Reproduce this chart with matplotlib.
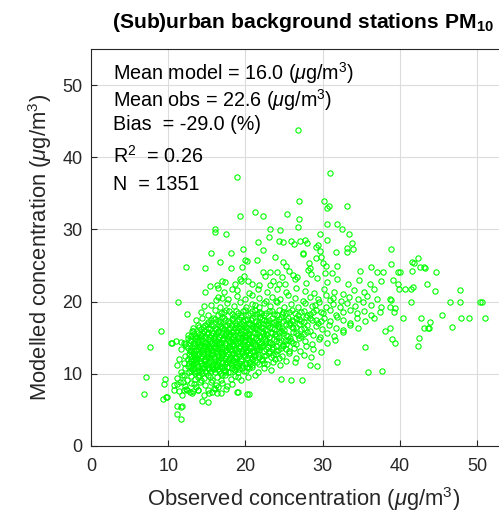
import numpy as np
import matplotlib.pyplot as plt

# observed vs modelled PM10 (ug/m3)
# outer / sparse points
upper_pts = [
    (26.8, 43.8), (18.9, 37.2), (31.0, 37.8), (26.9, 34.0), (30.2, 33.9),
    (30.5, 33.0), (30.8, 33.3), (33.2, 33.3), (19.3, 31.8), (21.3, 32.4),
    (22.3, 31.9), (25.4, 32.2), (26.9, 31.5), (26.8, 30.3), (30.6, 30.7),
    (31.9, 30.8), (32.5, 30.1), (33.4, 29.4), (16.1, 30.1), (16.1, 29.6),
    (17.5, 29.3), (23.2, 30.0), (24.5, 29.9), (23.1, 29.0), (29.7, 29.3),
    (30.5, 28.6), (21.6, 28.3), (24.3, 28.4), (24.9, 28.2), (25.9, 28.4),
    (26.3, 28.0), (27.1, 28.4), (27.7, 28.6), (28.0, 28.1), (29.4, 27.8),
    (29.2, 27.6), (33.8, 28.1), (33.9, 27.3), (33.2, 27.4), (33.1, 26.9),
    (19.7, 27.3), (22.3, 27.1), (18.1, 26.7), (15.6, 26.8), (27.4, 26.6),
    (27.5, 26.7), (29.7, 27.0), (29.8, 26.2), (31.7, 26.9), (38.8, 27.3),
    (23.8, 26.2), (16.7, 25.5), (20.0, 25.7), (20.2, 25.6), (21.5, 25.7),
    (24.9, 25.5), (25.3, 25.0), (28.2, 25.4), (28.3, 24.7), (30.0, 25.3),
    (30.4, 24.9), (31.8, 25.0), (29.1, 26.1), (12.3, 24.8), (14.7, 24.6),
    (18.1, 24.7), (19.5, 24.8), (25.6, 24.2), (22.3, 24.1), (23.2, 24.1),
    (24.1, 24.1), (26.1, 23.7), (26.7, 23.4), (28.1, 24.4), (30.3, 24.0),
]
right_pts = [
    (34.8, 24.3), (36.3, 24.8), (37.1, 24.1), (37.8, 24.1), (38.9, 25.2),
    (39.7, 24.1), (40.0, 24.1), (41.6, 25.5), (41.8, 25.4), (42.3, 26.1),
    (41.6, 24.3), (42.6, 24.8), (43.1, 24.8), (43.3, 24.7), (44.7, 24.1),
    (39.1, 23.0), (39.8, 22.5), (39.9, 21.8), (40.7, 21.8), (41.5, 21.8),
    (41.7, 22.0), (43.5, 22.4), (44.5, 21.5), (47.8, 21.6), (46.5, 20.0),
    (47.8, 20.0), (50.4, 20.0), (50.6, 20.0), (41.5, 20.0), (45.5, 18.1),
    (42.8, 17.7), (43.9, 17.2), (43.1, 16.3), (43.6, 16.3), (43.8, 16.4),
    (46.7, 16.5), (47.9, 17.7), (49.0, 17.7), (51.0, 17.7), (42.5, 14.9),
    (42.3, 13.8), (40.4, 17.7), (38.7, 20.3), (38.9, 20.2), (38.7, 19.2),
    (39.4, 19.1), (39.2, 18.6), (38.7, 16.4), (39.0, 14.8), (39.4, 14.3),
    (38.1, 15.9), (35.5, 13.7), (35.9, 10.3), (37.7, 10.4), (31.9, 11.6),
    (28.4, 11.2), (29.3, 11.1), (24.6, 9.3), (25.9, 9.2), (27.3, 9.2),
]
left_pts = [
    (20.2, 7.2), (18.9, 7.5), (11.7, 3.8), (11.6, 5.4), (11.1, 4.5),
    (11.2, 5.6), (11.8, 5.5), (14.4, 6.3), (15.1, 6.1), (6.8, 7.2),
    (7.1, 9.5), (7.7, 13.7), (9.1, 15.9), (9.3, 6.5), (9.7, 6.8),
    (9.6, 9.3), (9.4, 8.6), (9.8, 6.8), (10.7, 7.7), (11.1, 8.6),
    (11.8, 7.0), (12.0, 7.7), (12.4, 7.8), (13.2, 7.6), (13.8, 7.8),
    (15.3, 7.4), (15.7, 7.5), (16.4, 8.2), (16.3, 7.3), (19.0, 7.5),
    (19.1, 9.5), (20.4, 7.2), (11.3, 20.0), (12.4, 18.3), (10.4, 14.2),
    (11.0, 14.6), (12.1, 14.3), (12.6, 14.9), (10.5, 14.2), (11.7, 14.4),
    (11.4, 12.1), (11.1, 11.2), (13.0, 15.3), (13.2, 16.0), (14.6, 19.4),
    (14.7, 21.4), (15.4, 22.1), (16.4, 21.9), (16.3, 22.3), (17.0, 22.9),
    (17.4, 22.7), (16.2, 20.2), (16.9, 20.5), (18.3, 21.8), (19.3, 23.2),
    (19.4, 22.8), (20.9, 22.5), (23.2, 22.3), (24.3, 22.4),
]
# dense core, band by band in modelled value
core_pts = [
    (11.4, 7.6), (12.3, 7.9), (13.1, 7.3), (13.9, 7.8), (14.6, 7.1), (15.2, 7.7),
    (16.1, 7.9), (16.8, 7.4), (12.8, 7.5), (17.5, 7.9),
    (10.8, 8.4), (11.5, 8.8), (12.2, 8.3), (12.9, 8.7), (13.6, 8.2), (14.1, 8.9),
    (14.8, 8.5), (15.5, 8.8), (16.2, 8.4), (16.9, 8.7), (17.6, 8.3), (11.9, 8.9),
    (13.3, 8.6), (15.9, 8.1), (18.2, 8.6),
    (11.2, 9.4), (11.8, 9.8), (12.4, 9.2), (12.9, 9.7), (13.5, 9.3), (14.0, 9.9),
    (14.6, 9.4), (15.1, 9.8), (15.7, 9.2), (16.3, 9.6), (16.8, 9.1), (17.4, 9.8),
    (18.1, 9.3), (18.7, 9.7), (19.4, 9.2), (20.3, 9.6), (21.2, 9.9), (12.1, 9.9),
    (13.8, 9.6), (15.4, 9.5), (17.0, 9.9), (14.3, 9.1),
    (11.6, 10.3), (12.2, 10.8), (12.7, 10.2), (13.1, 10.6), (13.5, 10.1), (13.8, 10.9),
    (14.2, 10.4), (14.6, 10.8), (14.9, 10.2), (15.3, 10.6), (15.7, 10.9), (16.0, 10.3),
    (16.4, 10.7), (16.8, 10.1), (17.2, 10.5), (17.6, 10.9), (18.0, 10.3), (18.5, 10.7),
    (19.0, 10.2), (19.5, 10.8), (20.1, 10.4), (20.8, 10.9), (21.6, 10.3), (22.4, 10.8),
    (23.3, 10.5), (13.3, 10.4), (14.4, 10.1), (15.9, 10.6), (17.4, 10.2), (18.8, 10.9),
    (12.0, 11.5), (12.5, 11.1), (12.9, 11.8), (13.2, 11.3), (13.6, 11.7), (13.9, 11.1),
    (14.3, 11.5), (14.6, 11.9), (15.0, 11.2), (15.3, 11.6), (15.7, 11.0), (16.0, 11.8),
    (16.3, 11.4), (16.7, 11.1), (17.0, 11.7), (17.4, 11.3), (17.8, 11.9), (18.2, 11.2),
    (18.6, 11.6), (19.0, 11.1), (19.4, 11.8), (19.9, 11.3), (20.4, 11.7), (20.9, 11.2),
    (21.5, 11.6), (22.1, 11.9), (22.8, 11.3), (23.6, 11.7), (24.5, 11.2), (13.4, 11.9),
    (14.8, 11.4), (16.5, 11.6), (18.4, 11.5), (20.2, 11.0), (25.3, 11.8), (26.4, 11.6),
    (12.2, 12.4), (12.7, 12.8), (13.0, 12.1), (13.3, 12.6), (13.7, 12.2), (14.0, 12.9),
    (14.3, 12.4), (14.7, 12.0), (15.0, 12.7), (15.4, 12.3), (15.7, 12.8), (16.1, 12.1),
    (16.4, 12.6), (16.8, 12.2), (17.1, 12.9), (17.5, 12.4), (17.9, 12.0), (18.2, 12.7),
    (18.6, 12.3), (19.0, 12.8), (19.4, 12.1), (19.8, 12.6), (20.2, 12.2), (20.6, 12.9),
    (21.1, 12.4), (21.6, 12.8), (22.1, 12.1), (22.7, 12.6), (23.3, 12.3), (24.0, 12.8),
    (24.8, 12.4), (25.7, 12.9), (26.6, 12.2), (13.5, 12.5), (15.2, 12.5), (16.9, 12.5),
    (18.8, 12.5), (20.9, 12.0), (23.8, 12.0), (27.6, 12.6), (28.5, 12.3), (12.6, 12.1),
    (11.7, 13.4), (12.3, 13.8), (12.8, 13.2), (13.1, 13.7), (13.4, 13.1), (13.8, 13.5),
    (14.1, 13.9), (14.4, 13.3), (14.8, 13.7), (15.1, 13.1), (15.4, 13.6), (15.8, 13.2),
    (16.1, 13.9), (16.5, 13.4), (16.8, 13.0), (17.2, 13.7), (17.5, 13.3), (17.9, 13.8),
    (18.3, 13.2), (18.6, 13.6), (19.0, 13.1), (19.3, 13.9), (19.7, 13.4), (20.1, 13.0),
    (20.5, 13.7), (20.9, 13.2), (21.3, 13.8), (21.7, 13.3), (22.2, 13.9), (22.6, 13.4),
    (23.1, 13.1), (23.6, 13.7), (24.2, 13.3), (24.9, 13.8), (25.6, 13.2), (26.3, 13.6),
    (27.1, 13.1), (27.9, 13.8), (28.8, 13.4), (29.8, 13.0), (14.6, 13.5), (16.3, 13.6),
    (18.0, 13.5), (19.9, 13.6), (21.5, 13.6), (23.9, 13.9),
    (12.2, 14.1), (12.8, 14.7), (13.2, 14.3), (13.5, 14.9), (13.9, 14.4), (14.2, 14.0),
    (14.5, 14.6), (14.9, 14.2), (15.2, 14.8), (15.6, 14.3), (15.9, 14.9), (16.3, 14.5),
    (16.6, 14.1), (17.0, 14.7), (17.3, 14.2), (17.7, 14.8), (18.0, 14.4), (18.4, 14.0),
    (18.7, 14.6), (19.1, 14.2), (19.5, 14.9), (19.8, 14.5), (20.2, 14.1), (20.6, 14.7),
    (21.0, 14.3), (21.4, 14.9), (21.8, 14.4), (22.3, 14.0), (22.7, 14.6), (23.2, 14.2),
    (23.7, 14.8), (24.3, 14.4), (24.9, 14.0), (25.5, 14.7), (26.2, 14.3), (26.9, 14.9),
    (27.7, 14.5), (28.6, 14.1), (29.5, 14.8), (30.5, 14.3), (31.6, 14.7), (14.0, 14.7),
    (16.0, 14.2), (18.2, 14.8), (20.4, 14.4), (22.5, 14.3), (25.1, 14.5),
    (12.6, 15.4), (13.1, 15.9), (13.5, 15.2), (13.9, 15.7), (14.3, 15.3), (14.6, 15.9),
    (15.0, 15.5), (15.4, 15.1), (15.7, 15.7), (16.1, 15.3), (16.4, 15.8), (16.8, 15.4),
    (17.1, 15.0), (17.5, 15.6), (17.9, 15.2), (18.2, 15.8), (18.6, 15.4), (19.0, 15.0),
    (19.3, 15.7), (19.7, 15.3), (20.1, 15.9), (20.5, 15.5), (20.9, 15.1), (21.3, 15.7),
    (21.7, 15.3), (22.1, 15.9), (22.6, 15.5), (23.0, 15.1), (23.5, 15.7), (24.0, 15.3),
    (24.6, 15.9), (25.2, 15.4), (25.8, 15.0), (26.5, 15.6), (27.2, 15.2), (28.0, 15.8),
    (28.8, 15.4), (29.7, 15.1), (30.6, 15.7), (31.5, 15.3), (32.6, 15.8), (15.2, 15.6),
    (17.7, 15.4), (20.0, 15.4), (22.4, 15.2), (24.4, 15.6), (27.6, 15.5),
    (13.2, 16.3), (13.8, 16.8), (14.3, 16.2), (14.8, 16.7), (15.2, 16.3), (15.6, 16.9),
    (16.0, 16.4), (16.4, 16.0), (16.8, 16.6), (17.2, 16.2), (17.6, 16.8), (18.0, 16.4),
    (18.4, 16.0), (18.8, 16.7), (19.2, 16.3), (19.6, 16.9), (20.0, 16.5), (20.4, 16.1),
    (20.8, 16.7), (21.2, 16.3), (21.6, 16.9), (22.0, 16.5), (22.5, 16.1), (22.9, 16.7),
    (23.4, 16.3), (23.9, 16.9), (24.4, 16.5), (25.0, 16.1), (25.6, 16.7), (26.2, 16.3),
    (26.9, 16.9), (27.6, 16.4), (28.3, 16.0), (29.1, 16.6), (29.9, 16.2), (30.8, 16.8),
    (31.7, 16.4), (32.6, 16.1), (33.6, 16.7), (34.6, 16.3), (19.4, 16.5), (21.4, 16.6),
    (24.2, 16.6), (26.6, 16.5),
    (13.6, 17.4), (14.4, 17.8), (15.1, 17.2), (15.8, 17.7), (16.4, 17.3), (16.9, 17.9),
    (17.4, 17.5), (17.9, 17.1), (18.4, 17.7), (18.9, 17.3), (19.4, 17.9), (19.9, 17.5),
    (20.4, 17.1), (20.9, 17.7), (21.4, 17.3), (21.9, 17.9), (22.4, 17.5), (22.9, 17.1),
    (23.4, 17.7), (24.0, 17.3), (24.6, 17.9), (25.2, 17.5), (25.8, 17.1), (26.5, 17.7),
    (27.2, 17.3), (27.9, 17.9), (28.6, 17.5), (29.4, 17.1), (30.2, 17.7), (31.0, 17.3),
    (31.8, 17.9), (32.7, 17.5), (33.6, 17.1), (34.5, 17.7), (35.5, 17.3), (36.6, 17.8),
    (20.2, 17.6), (23.1, 17.5), (26.0, 17.5),
    (14.3, 18.5), (15.2, 18.2), (16.0, 18.8), (16.8, 18.4), (17.5, 18.9), (18.2, 18.3),
    (18.8, 18.7), (19.4, 18.2), (20.0, 18.8), (20.6, 18.4), (21.2, 18.9), (21.8, 18.5),
    (22.4, 18.1), (23.0, 18.7), (23.7, 18.3), (24.4, 18.9), (25.2, 18.4), (26.0, 18.8),
    (26.8, 18.2), (27.6, 18.7), (28.4, 18.3), (29.2, 18.9), (30.0, 18.4), (30.9, 18.8),
    (31.7, 18.2), (32.6, 18.6), (33.5, 18.9), (34.4, 18.4), (35.3, 18.7), (36.3, 18.2),
    (37.4, 18.6), (22.0, 18.4), (24.9, 18.6), (29.8, 18.6),
    (15.6, 19.5), (16.7, 19.2), (17.6, 19.8), (18.5, 19.4), (19.3, 19.9), (20.1, 19.3),
    (20.9, 19.7), (21.7, 19.2), (22.4, 19.8), (23.2, 19.4), (24.1, 19.9), (25.0, 19.3),
    (25.9, 19.7), (26.8, 19.2), (27.7, 19.8), (28.6, 19.4), (29.5, 19.9), (30.4, 19.3),
    (31.3, 19.7), (32.2, 19.2), (33.2, 19.8), (34.2, 19.4), (35.2, 19.9), (36.3, 19.5),
    (37.5, 19.2), (21.3, 19.5), (29.0, 19.6),
    (16.5, 20.6), (17.8, 20.3), (18.9, 20.8), (19.9, 20.4), (20.8, 20.9), (21.7, 20.5),
    (22.6, 20.1), (23.5, 20.7), (24.5, 20.3), (25.5, 20.9), (26.4, 20.5), (27.4, 20.1),
    (28.4, 20.7), (29.4, 20.3), (30.4, 20.9), (31.4, 20.5), (32.4, 20.1), (33.4, 20.7),
    (34.6, 20.3), (35.8, 20.8), (37.0, 20.4), (24.0, 20.1), (30.9, 20.2),
    (17.2, 21.4), (18.9, 21.6), (20.5, 21.2), (21.6, 21.8), (22.8, 21.4), (24.1, 21.7),
    (25.2, 21.3), (26.5, 21.9), (27.7, 21.5), (28.9, 21.2), (30.2, 21.8), (31.5, 21.4),
    (32.7, 21.1), (34.0, 21.6), (35.4, 21.3), (36.7, 21.7),
    (18.6, 22.4), (20.3, 22.9), (21.8, 22.3), (23.6, 22.8), (25.1, 22.4), (26.4, 23.1),
    (27.8, 22.6), (29.3, 23.3), (30.6, 22.7), (31.9, 23.2), (33.3, 22.5), (34.7, 23.0),
    (36.1, 22.4), (22.5, 23.6), (24.7, 23.4), (28.5, 23.8), (31.2, 24.0), (19.8, 23.5),
    (37.5, 22.8),
]
# the solid-looking middle of the cloud (second, interleaved pass)
dense_pts = [
    (13.0, 10.45), (13.4, 10.75), (13.7, 10.3), (14.0, 10.55), (14.4, 10.85), (14.8, 10.45),
    (15.1, 10.75), (15.5, 10.35), (15.8, 10.65), (16.2, 10.9), (16.6, 10.45), (17.0, 10.8),
    (17.4, 10.55), (17.8, 10.25), (18.2, 10.85), (18.7, 10.5), (19.2, 10.6), (19.8, 10.45),
    (20.4, 10.75),
    (12.7, 11.45), (13.0, 11.05), (13.4, 11.55), (13.7, 11.35), (14.1, 11.75), (14.4, 11.25),
    (14.8, 11.8), (15.1, 11.45), (15.5, 11.8), (15.8, 11.4), (16.2, 11.15), (16.5, 11.85),
    (16.9, 11.45), (17.2, 11.05), (17.6, 11.6), (18.0, 11.45), (18.4, 11.85), (18.8, 11.35),
    (19.2, 11.55), (19.6, 11.2), (20.1, 11.55), (20.6, 11.4), (21.2, 11.85), (21.8, 11.35),
    (22.4, 11.55),
    (12.9, 12.45), (13.2, 12.85), (13.5, 12.15), (13.9, 12.55), (14.2, 12.15), (14.5, 12.75),
    (14.9, 12.35), (15.2, 12.85), (15.6, 12.55), (15.9, 12.35), (16.3, 12.85), (16.6, 12.4),
    (17.0, 12.6), (17.3, 12.15), (17.7, 12.7), (18.0, 12.35), (18.4, 12.9), (18.8, 12.15),
    (19.2, 12.45), (19.6, 12.85), (20.0, 12.4), (20.4, 12.65), (20.8, 12.3), (21.3, 12.65),
    (21.8, 12.3), (22.4, 12.45), (23.0, 12.85), (23.6, 12.55), (24.3, 12.25),
    (12.6, 13.55), (13.0, 13.35), (13.3, 13.85), (13.6, 13.25), (14.0, 13.65), (14.3, 13.05),
    (14.6, 13.85), (15.0, 13.45), (15.3, 13.85), (15.6, 13.35), (16.0, 13.55), (16.3, 13.15),
    (16.7, 13.75), (17.0, 13.45), (17.4, 13.1), (17.7, 13.6), (18.1, 13.25), (18.5, 13.85),
    (18.8, 13.4), (19.2, 13.55), (19.5, 13.2), (19.9, 13.85), (20.3, 13.35), (20.7, 13.55),
    (21.1, 13.1), (21.5, 13.35), (21.9, 13.65), (22.4, 13.2), (22.9, 13.75), (23.4, 13.45),
    (24.0, 13.15), (24.6, 13.55), (25.3, 13.45),
    (13.0, 14.55), (13.4, 14.15), (13.7, 14.65), (14.0, 14.25), (14.4, 14.85), (14.7, 14.45),
    (15.0, 14.05), (15.4, 14.55), (15.7, 14.15), (16.1, 14.75), (16.4, 14.25), (16.8, 14.45),
    (17.1, 14.85), (17.5, 14.05), (17.9, 14.6), (18.2, 14.15), (18.6, 14.85), (18.9, 14.35),
    (19.3, 14.55), (19.7, 14.1), (20.0, 14.75), (20.4, 14.85), (20.8, 14.5), (21.2, 14.1),
    (21.6, 14.65), (22.0, 14.2), (22.5, 14.85), (23.0, 14.45), (23.5, 14.1), (24.0, 14.6),
    (24.6, 14.75), (25.2, 14.15), (25.9, 14.5), (26.6, 14.15),
    (13.3, 15.55), (13.7, 15.05), (14.1, 15.45), (14.4, 15.65), (14.8, 15.15), (15.2, 15.85),
    (15.5, 15.4), (15.9, 15.05), (16.2, 15.55), (16.6, 15.15), (17.0, 15.75), (17.3, 15.35),
    (17.7, 15.85), (18.0, 15.55), (18.4, 15.15), (18.8, 15.75), (19.1, 15.35), (19.5, 15.55),
    (19.9, 15.15), (20.3, 15.65), (20.7, 15.3), (21.1, 15.85), (21.5, 15.5), (21.9, 15.1),
    (22.3, 15.65), (22.8, 15.35), (23.3, 15.85), (23.8, 15.45), (24.3, 15.15), (24.9, 15.7),
    (25.5, 15.3), (26.1, 15.85), (26.8, 15.35),
    (14.0, 16.55), (14.5, 16.45), (15.0, 16.85), (15.4, 16.15), (15.8, 16.6), (16.2, 16.25),
    (16.6, 16.85), (17.0, 16.4), (17.4, 16.6), (17.8, 16.15), (18.2, 16.75), (18.6, 16.35),
    (19.0, 16.55), (19.4, 16.1), (19.8, 16.7), (20.2, 16.3), (20.6, 16.9), (21.0, 16.45),
    (21.4, 16.15), (21.8, 16.75), (22.3, 16.4), (22.7, 16.9), (23.2, 16.55), (23.7, 16.15),
    (24.2, 16.85), (24.8, 16.4), (25.3, 16.85), (26.0, 16.55), (27.2, 16.2), (28.0, 16.7),
    (15.5, 17.45), (16.1, 17.65), (16.7, 17.15), (17.2, 17.75), (17.7, 17.35), (18.2, 17.55),
    (18.7, 17.05), (19.2, 17.6), (19.7, 17.25), (20.7, 17.45), (21.2, 17.85), (21.7, 17.15),
    (22.2, 17.65), (22.7, 17.35), (23.7, 17.15), (24.3, 17.55), (24.9, 17.25), (25.5, 17.75),
    (26.2, 17.25), (26.9, 17.55), (27.6, 17.15), (28.3, 17.7), (29.1, 17.45), (29.8, 17.25),
    (16.4, 18.15), (17.2, 18.55), (17.9, 18.65), (18.5, 18.05), (19.1, 18.45), (19.7, 18.65),
    (20.3, 18.15), (20.9, 18.65), (21.5, 18.25), (22.7, 18.45), (23.4, 18.75), (24.1, 18.15),
    (24.8, 18.35), (25.6, 18.6), (26.4, 18.45), (27.2, 18.55), (28.0, 18.15), (28.8, 18.6),
]

stats_lines = [
    r"Mean model = 16.0 ($\mu$g/m$^3$)",
    r"Mean obs = 22.6 ($\mu$g/m$^3$)",
    r"Bias  = -29.0 (%)",
    r"R$^2$  = 0.26",
    r"N  = 1351",
]
stats_y = [51.6, 47.9, 44.5, 40.2, 36.2]
ticks = [0, 10, 20, 30, 40, 50]

plt.rcParams['font.family'] = ['Liberation Sans', 'DejaVu Sans']
plt.rcParams['mathtext.fontset'] = 'custom'
plt.rcParams['mathtext.rm'] = 'Liberation Sans'
plt.rcParams['mathtext.it'] = 'Liberation Sans:italic'
plt.rcParams['mathtext.bf'] = 'Liberation Sans:bold'

pts = np.array(upper_pts + right_pts + left_pts + core_pts + dense_pts)
obs, mod = pts[:, 0], pts[:, 1]

fig = plt.figure(figsize=(4.99, 5.14), dpi=100)
# right edge of the box runs off the picture, as in the reference
ax = fig.add_axes([0.1824, 0.1323, 0.851, 0.7724])

ax.plot(obs, mod, 'o', ms=3.8, mfc='none', mec=(0, 1, 0), mew=0.8, zorder=3)

ax.set_xlim(0, 55)
ax.set_ylim(0, 55)
ax.set_xticks(ticks)
ax.set_yticks(ticks)
ax.grid(True, color='#dcdcdc', lw=0.8)
ax.set_axisbelow(True)
ax.tick_params(direction='in', length=4, width=0.8, colors='#262626',
               labelsize=13, pad=6)
ax.tick_params(axis='x', pad=9)
for s in ax.spines.values():
    s.set_color('#262626')
    s.set_linewidth(0.8)

for txt, yv in zip(stats_lines, stats_y):
    ax.text(2.85, yv, txt, fontsize=14.2, va='center', ha='left', color='black')

ax.set_xlabel(r"Observed concentration ($\mu$g/m$^3$)", fontsize=15.8,
              color='#262626', labelpad=7)
ax.set_ylabel(r"Modelled concentration ($\mu$g/m$^3$)", fontsize=15.8,
              color='#262626', labelpad=6)
ax.set_title(r"(Sub)urban background stations PM$_{\mathbf{10}}$",
             fontsize=15.2, fontweight='bold', pad=15)

fig.savefig('out.png', dpi=100)
